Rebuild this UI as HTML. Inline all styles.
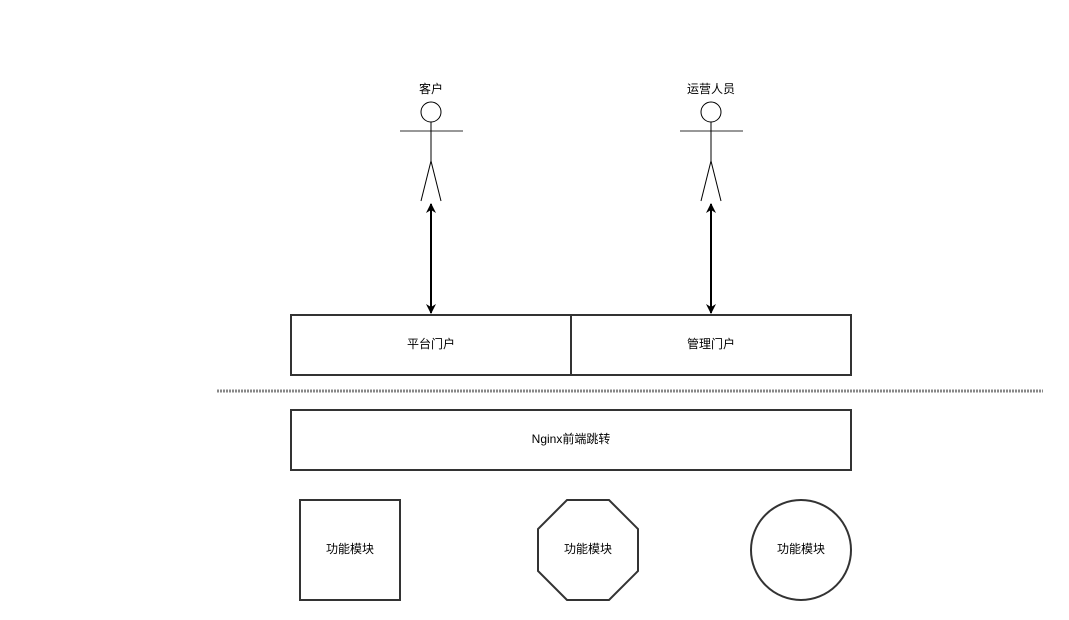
<!DOCTYPE html>
<html><head><meta charset="utf-8"><style>body{margin:0;background:#fff}</style></head><body>
<svg width="1069" height="620" xmlns="http://www.w3.org/2000/svg" style="display:block;font-family:'Liberation Sans','Noto Sans CJK SC',sans-serif;font-size:12px">
<defs><marker id="a" viewBox="0 0 10 10" refX="9" refY="5" markerWidth="5" markerHeight="5" orient="auto-start-reverse"><path d="M0,0 L10,5 L0,10 L3,5 z" fill="#000"/></marker></defs>
<g stroke="#000" fill="none" stroke-width="1">
<circle cx="431" cy="112" r="10" fill="#fff"/><line x1="400" y1="131" x2="463" y2="131" stroke="#777" stroke-width="1.5"/>
<line x1="431" y1="122" x2="431" y2="161"/><path d="M421,201 L431,161 L441,201"/>
<circle cx="711" cy="112" r="10" fill="#fff"/><line x1="680" y1="131" x2="743" y2="131" stroke="#777" stroke-width="1.5"/>
<line x1="711" y1="122" x2="711" y2="161"/><path d="M701,201 L711,161 L721,201"/>
</g>
<g stroke="#000" stroke-width="2" marker-start="url(#a)" marker-end="url(#a)">
<line x1="431" y1="204" x2="431" y2="313"/><line x1="711" y1="204" x2="711" y2="313"/></g>
<line x1="217" y1="391" x2="1043" y2="391" stroke="#888" stroke-width="3" stroke-dasharray="2,1"/>
<g stroke="#333" stroke-width="2" fill="#fff">
<rect x="291" y="315" width="280" height="60"/><rect x="571" y="315" width="280" height="60"/>
<rect x="291" y="410" width="560" height="60"/>
<rect x="300" y="500" width="100" height="100"/>
<polygon points="567,500 609,500 638,529 638,571 609,600 567,600 538,571 538,529"/>
<circle cx="801" cy="550" r="50"/></g>
<g text-anchor="middle" fill="#000">
<text x="431" y="93">客户</text><text x="711" y="93">运营人员</text>
<text x="431" y="348">平台门户</text><text x="711" y="348">管理门户</text>
<text x="571" y="443">Nginx前端跳转</text>
<text x="350" y="553">功能模块</text><text x="588" y="553">功能模块</text><text x="801" y="553">功能模块</text>
</g></svg></body></html>
